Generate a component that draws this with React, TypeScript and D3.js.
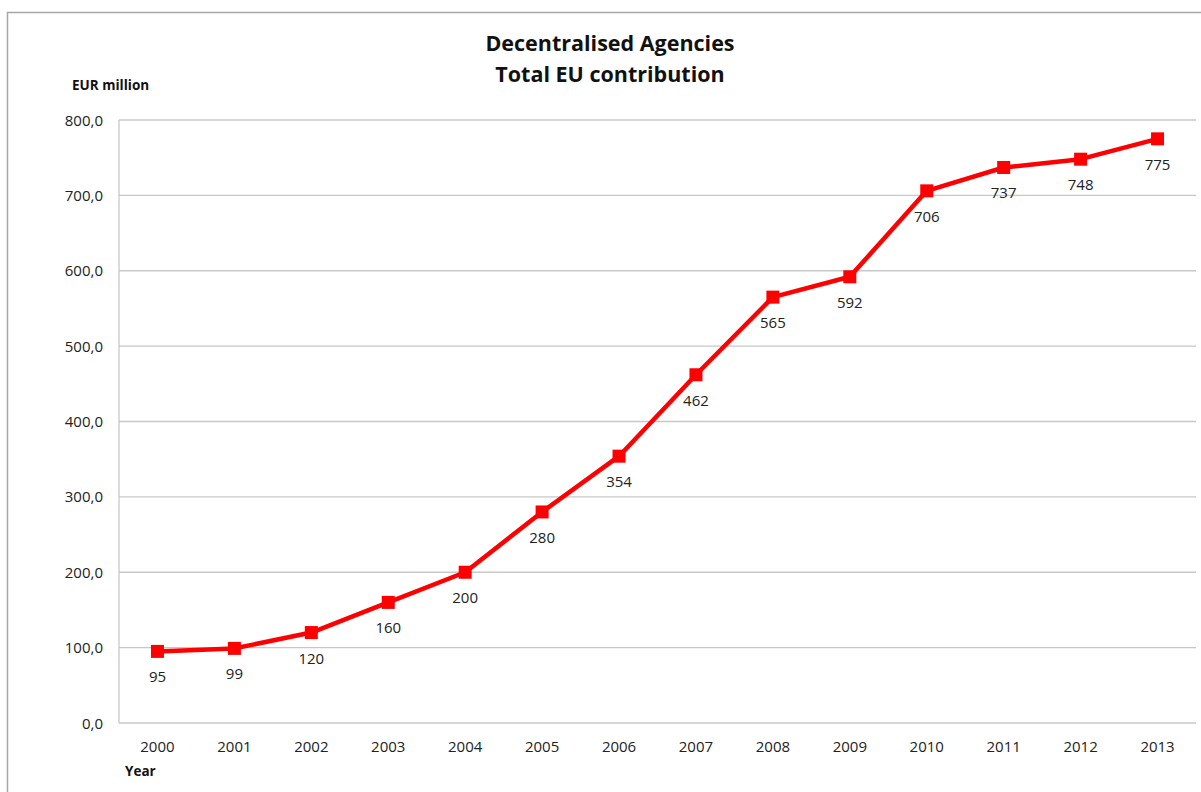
import React from "react";
import * as d3 from "d3";

const years = ["2000", "2001", "2002", "2003", "2004", "2005", "2006", "2007", "2008", "2009", "2010", "2011", "2012", "2013"];
const contributions = [95, 99, 120, 160, 200, 280, 354, 462, 565, 592, 706, 737, 748, 775];
const yTicks = [0, 100, 200, 300, 400, 500, 600, 700, 800];

const W = 1201;
const H = 792;
const plot = { left: 119, right: 1196, top: 120, bottom: 723 };
const FONT = "'Open Sans', 'DejaVu Sans', sans-serif";

export default function App() {
  const x = d3.scaleBand<string>().domain(years).range([plot.left, plot.right]);
  const y = d3.scaleLinear().domain([0, 800]).range([plot.bottom, plot.top]);
  const cx = (yr: string) => (x(yr) as number) + x.bandwidth() / 2;
  const line = d3
    .line<number>()
    .x((_, i) => cx(years[i]))
    .y((d) => y(d));
  const fmt = (v: number) => v.toFixed(1).replace(".", ",");

  return (
    <svg width={W} height={H} style={{ position: "absolute", left: 0, top: 0, background: "#fff" }}>
      <rect x={7.5} y={12.5} width={W} height={H} fill="#fff" stroke="#a6a6a6" strokeWidth={1.5} />
      <text x={610} y={51} textAnchor="middle" fontFamily={FONT} fontWeight={700} fontSize={21.5} fill="#111">
        Decentralised Agencies
      </text>
      <text x={610} y={82} textAnchor="middle" fontFamily={FONT} fontWeight={700} fontSize={21.5} fill="#111">
        Total EU contribution
      </text>
      <text x={72} y={90} fontFamily={FONT} fontWeight={700} fontSize={13.5} fill="#111">
        EUR million
      </text>
      <text x={125} y={776} fontFamily={FONT} fontWeight={700} fontSize={13.5} fill="#111">
        Year
      </text>
      {yTicks.map((t) => (
        <g key={t}>
          <line x1={plot.left} x2={plot.right} y1={y(t)} y2={y(t)} stroke="#c8c8c8" strokeWidth={1.3} />
          <text x={103} y={y(t) + 5.5} textAnchor="end" fontFamily={FONT} fontSize={15} fill="#222">
            {fmt(t)}
          </text>
        </g>
      ))}
      <line x1={plot.left} x2={plot.left} y1={plot.top} y2={plot.bottom} stroke="#c8c8c8" strokeWidth={1.3} />
      {years.map((yr) => (
        <text key={yr} x={cx(yr)} y={752} textAnchor="middle" fontFamily={FONT} fontSize={15} fill="#222">
          {yr}
        </text>
      ))}
      <path d={line(contributions) || ""} fill="none" stroke="#ff0000" strokeWidth={4.5} strokeLinejoin="round" />
      {contributions.map((v, i) => (
        <g key={years[i]}>
          <rect x={cx(years[i]) - 6.5} y={y(v) - 6.5} width={13} height={13} fill="#ff0000" />
          <text x={cx(years[i])} y={y(v) + 31} textAnchor="middle" fontFamily={FONT} fontSize={15} fill="#222">
            {v}
          </text>
        </g>
      ))}
    </svg>
  );
}
